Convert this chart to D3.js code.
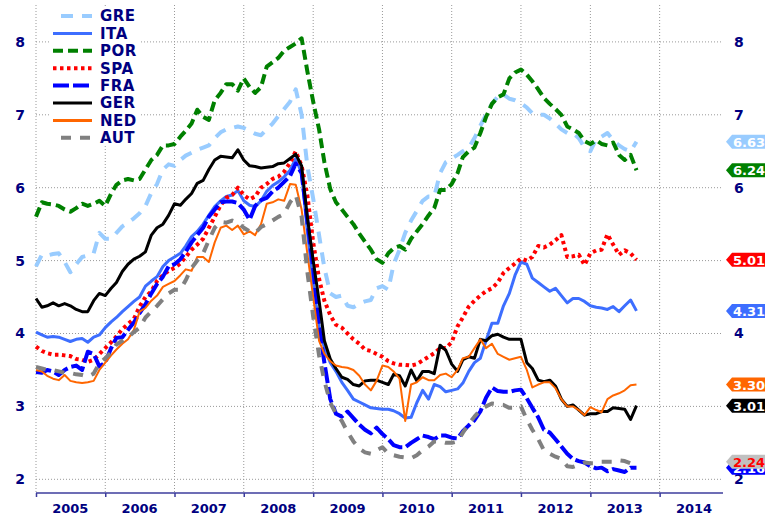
<!DOCTYPE html>
<html>
<head>
<meta charset="utf-8">
<script src="https://cdn.jsdelivr.net/npm/d3@7"></script>
<style>
  body { margin: 0; background: #fff; }
  svg { display: block; font-family: "DejaVu Sans", Verdana, sans-serif; }
  .grid line { stroke: #999; stroke-width: 1; stroke-dasharray: 1,2; }
</style>
</head>
<body>
<svg id="chart" width="765" height="517"></svg>
<script>
// monthly readings, Jan 2005 .. Sep 2013
var GRE = [4.92,5.08,5.07,5.09,5.10,4.98,4.84,4.95,5.05,5.07,5.10,5.38,
  5.30,5.30,5.38,5.47,5.52,5.58,5.65,5.75,5.93,6.05,6.25,6.32,
  6.30,6.38,6.44,6.48,6.52,6.55,6.58,6.68,6.76,6.80,6.82,6.84,
  6.82,6.78,6.74,6.72,6.80,6.88,6.98,7.08,7.18,7.35,7.00,6.30,
  5.85,5.35,4.90,4.55,4.50,4.52,4.38,4.36,4.41,4.44,4.46,4.62,
  4.65,4.60,4.95,5.15,5.38,5.55,5.68,5.82,5.88,5.88,6.20,6.35,
  6.40,6.45,6.50,6.55,6.68,6.85,7.00,7.15,7.25,7.28,7.22,7.20,
  7.16,7.10,7.02,7.00,7.00,6.95,6.88,6.80,6.75,6.75,6.68,6.55,
  6.50,6.67,6.70,6.75,6.65,6.58,6.53,6.50,6.63];
var ITA = [4.02,3.98,3.95,3.96,3.95,3.92,3.89,3.92,3.93,3.88,3.95,3.98,
  4.08,4.16,4.22,4.30,4.37,4.44,4.50,4.65,4.72,4.78,4.92,5.00,
  5.05,5.10,5.20,5.33,5.40,5.50,5.62,5.74,5.82,5.88,5.90,5.96,
  5.82,5.76,5.74,5.82,5.95,6.03,6.08,6.15,6.24,6.40,6.20,5.40,
  4.70,4.10,3.80,3.60,3.48,3.33,3.22,3.10,3.06,3.02,2.98,2.97,
  2.96,2.96,2.94,2.90,2.84,2.85,3.05,3.22,3.10,3.30,3.27,3.20,
  3.22,3.24,3.32,3.48,3.60,3.66,3.90,4.14,4.14,4.38,4.55,4.80,
  4.98,4.95,4.76,4.70,4.64,4.58,4.62,4.52,4.42,4.48,4.48,4.44,
  4.38,4.36,4.35,4.33,4.37,4.30,4.38,4.46,4.31];
var POR = [5.60,5.80,5.78,5.77,5.75,5.70,5.67,5.72,5.78,5.75,5.78,5.82,
  5.75,5.92,6.04,6.10,6.12,6.10,6.12,6.25,6.38,6.45,6.58,6.58,
  6.60,6.70,6.78,6.88,7.07,6.97,6.93,7.20,7.30,7.42,7.42,7.33,
  7.50,7.38,7.30,7.38,7.66,7.72,7.78,7.88,7.93,7.98,8.05,7.60,
  7.18,6.80,6.35,5.98,5.80,5.70,5.60,5.50,5.37,5.26,5.15,5.02,
  4.97,5.10,5.17,5.20,5.15,5.30,5.40,5.50,5.62,5.72,5.97,5.97,
  6.05,6.20,6.42,6.50,6.55,6.75,6.97,7.15,7.24,7.28,7.50,7.58,
  7.62,7.55,7.46,7.35,7.23,7.15,7.08,7.00,6.84,6.80,6.75,6.64,
  6.60,6.65,6.60,6.58,6.62,6.45,6.38,6.45,6.24];
var SPA = [3.82,3.76,3.73,3.71,3.71,3.70,3.69,3.65,3.64,3.61,3.64,3.72,
  3.80,3.88,3.96,4.06,4.13,4.20,4.37,4.50,4.58,4.72,4.80,4.86,
  4.90,4.96,5.05,5.15,5.22,5.30,5.45,5.60,5.76,5.86,5.90,6.00,
  5.90,5.84,5.88,6.00,6.05,6.12,6.15,6.22,6.34,6.50,6.30,5.90,
  5.25,4.75,4.45,4.25,4.12,4.08,4.00,3.92,3.86,3.78,3.76,3.72,
  3.68,3.62,3.59,3.57,3.57,3.56,3.58,3.63,3.68,3.73,3.80,3.80,
  3.88,4.10,4.22,4.37,4.45,4.52,4.58,4.62,4.70,4.83,4.90,4.96,
  5.03,5.00,5.05,5.20,5.18,5.22,5.28,5.35,5.05,5.06,5.08,4.94,
  5.10,5.14,5.15,5.36,5.22,5.08,5.14,5.10,5.01];
var FRA = [3.47,3.46,3.50,3.48,3.43,3.50,3.54,3.56,3.50,3.75,3.72,3.55,
  3.60,3.80,3.94,3.95,4.05,4.15,4.28,4.40,4.55,4.68,4.78,4.92,
  4.95,5.02,5.12,5.25,5.35,5.45,5.60,5.70,5.80,5.81,5.81,5.79,
  5.70,5.56,5.75,5.83,5.86,5.95,6.00,6.08,6.16,6.33,6.20,5.55,
  4.90,4.10,3.60,3.10,2.90,2.86,2.93,2.84,2.75,2.68,2.63,2.71,
  2.62,2.55,2.47,2.44,2.44,2.50,2.55,2.60,2.58,2.55,2.60,2.60,
  2.57,2.56,2.66,2.74,2.81,2.93,3.12,3.26,3.21,3.20,3.20,3.22,
  3.23,3.11,2.98,2.85,2.68,2.64,2.55,2.45,2.35,2.28,2.25,2.23,
  2.18,2.15,2.16,2.11,2.14,2.12,2.10,2.16,2.16];
var GER = [4.48,4.36,4.38,4.42,4.38,4.41,4.38,4.33,4.30,4.30,4.45,4.55,
  4.52,4.62,4.70,4.85,4.95,5.02,5.06,5.12,5.35,5.45,5.50,5.62,
  5.78,5.76,5.84,5.92,6.06,6.10,6.25,6.38,6.43,6.42,6.41,6.52,
  6.38,6.30,6.29,6.27,6.28,6.29,6.33,6.34,6.40,6.46,6.30,5.60,
  5.00,4.45,3.90,3.65,3.52,3.40,3.37,3.30,3.28,3.35,3.36,3.36,
  3.33,3.30,3.44,3.42,3.28,3.50,3.35,3.48,3.48,3.45,3.84,3.77,
  3.58,3.48,3.64,3.68,3.66,3.92,3.90,3.97,3.99,3.95,3.92,3.92,
  3.92,3.60,3.52,3.36,3.34,3.36,3.28,3.10,3.00,3.02,2.95,2.88,
  2.90,2.90,2.93,2.93,2.98,2.97,2.96,2.82,3.01];
var NED = [3.50,3.48,3.42,3.38,3.36,3.43,3.35,3.33,3.32,3.33,3.35,3.50,
  3.60,3.70,3.78,3.86,3.92,4.05,4.30,4.35,4.45,4.52,4.64,4.68,
  4.72,4.80,4.88,4.86,5.05,5.05,4.98,5.25,5.45,5.48,5.42,5.48,
  5.36,5.40,5.35,5.50,5.78,5.80,5.84,5.82,6.05,6.04,5.70,5.10,
  4.50,3.90,3.72,3.62,3.56,3.54,3.53,3.50,3.42,3.30,3.22,3.35,
  3.56,3.54,3.48,3.38,2.80,3.30,3.33,3.40,3.36,3.36,3.43,3.45,
  3.40,3.50,3.66,3.68,3.80,3.92,3.80,3.86,3.72,3.68,3.64,3.66,
  3.68,3.50,3.26,3.30,3.33,3.33,3.25,3.10,3.00,3.00,2.95,2.88,
  2.99,2.95,2.92,3.10,3.15,3.18,3.22,3.29,3.30];
var AUT = [3.54,3.52,3.50,3.50,3.48,3.46,3.46,3.44,3.43,3.41,3.45,3.59,
  3.66,3.74,3.85,3.90,3.95,4.02,4.08,4.22,4.30,4.38,4.47,4.55,
  4.60,4.60,4.73,4.90,5.00,5.10,5.28,5.45,5.53,5.52,5.55,5.52,
  5.45,5.40,5.38,5.46,5.50,5.55,5.60,5.64,5.80,5.90,5.60,4.85,
  4.23,3.70,3.35,3.05,2.90,2.80,2.65,2.52,2.42,2.37,2.35,2.40,
  2.44,2.35,2.33,2.31,2.30,2.29,2.33,2.40,2.45,2.52,2.52,2.50,
  2.50,2.52,2.64,2.76,2.86,2.95,3.00,3.04,3.03,3.02,2.98,2.98,
  3.00,2.82,2.68,2.55,2.40,2.35,2.31,2.28,2.18,2.17,2.20,2.23,
  2.22,2.22,2.24,2.24,2.24,2.26,2.25,2.22,2.24];

var names = ["GRE", "ITA", "POR", "SPA", "FRA", "GER", "NED", "AUT"];
var values = [GRE, ITA, POR, SPA, FRA, GER, NED, AUT];
var yTicks = [2, 3, 4, 5, 6, 7, 8];
var yTicksRight = [2, 4, 6, 7, 8];   // 3 and 5 sit under the flags
var yearLabels = [2005, 2006, 2007, 2008, 2009, 2010, 2011, 2012, 2013, 2014];

// look of each series
var styles = {
  GRE: {color: "#99ccff", width: 4, dash: "12,9"},
  ITA: {color: "#3d6eff", width: 3, dash: null},
  POR: {color: "#008000", width: 4, dash: "10,5"},
  SPA: {color: "#ff0000", width: 4, dash: "3.5,3.5"},
  FRA: {color: "#0000ff", width: 4, dash: "16,4"},
  GER: {color: "#000000", width: 3, dash: null},
  NED: {color: "#ff6600", width: 2, dash: null},
  AUT: {color: "#808080", width: 4, dash: "10,9"}
};
var flagText = {GRE: "#fff", ITA: "#fff", POR: "#fff", SPA: "#fff",
  FRA: "#fff", GER: "#fff", NED: "#fff", AUT: "#ff0000"};
var flagFill = {GRE: "#99ccff", ITA: "#3d6eff", POR: "#008000", SPA: "#ff0000",
  FRA: "#0000ff", GER: "#000000", NED: "#ff6600", AUT: "#c0c0c0"};

var months = d3.timeMonth.range(new Date(2005, 0, 1), new Date(2013, 9, 1));

var svg = d3.select("#chart");
var left = 36, right = 723, bottom = 493;

var x = d3.scaleTime()
  .domain([new Date(2005, 0, 1), new Date(2014, 11, 1)])
  .range([left, right]);
var y = d3.scaleLinear().domain([2, 8]).range([479.3, 41.9]);

var yearStarts = yearLabels.map(function(yr) { return new Date(yr, 0, 1); });

// grid
var grid = svg.append("g").attr("class", "grid");
grid.selectAll(".h").data(yTicks).enter().append("line")
  .attr("x1", left).attr("x2", right)
  .attr("y1", function(d) { return y(d); })
  .attr("y2", function(d) { return y(d); });
grid.selectAll(".v").data(yearStarts).enter().append("line")
  .attr("x1", function(d) { return x(d); })
  .attr("x2", function(d) { return x(d); })
  .attr("y1", 5).attr("y2", bottom);

// x axis: ticks at year boundaries, labels at mid-year
var xAxis = svg.append("g")
  .attr("transform", "translate(0," + bottom + ")")
  .call(d3.axisBottom(x).tickValues(yearStarts).tickSize(4).tickFormat(""));
xAxis.select(".domain").attr("stroke", "#3c3c9c").attr("stroke-width", 1.5)
  .attr("d", "M" + left + ",0H" + right);
xAxis.selectAll(".tick line").attr("stroke", "#3c3c9c").attr("stroke-width", 1.5);

svg.append("g").selectAll("text").data(yearLabels).enter().append("text")
  .attr("x", function(d) { return x(new Date(d, 6, 1)); })
  .attr("y", 513)
  .attr("text-anchor", "middle")
  .attr("fill", "#000080")
  .attr("font-size", "13px")
  .attr("font-weight", "bold")
  .text(function(d) { return d; });

// y axes on both sides
function styleY(g) {
  g.select(".domain").remove();
  g.selectAll("text").attr("fill", "#000080").attr("font-size", "14px")
    .attr("font-weight", "bold").attr("font-family", "DejaVu Sans, Verdana, sans-serif");
}
svg.append("g").attr("transform", "translate(" + left + ",0)")
  .call(d3.axisLeft(y).tickValues(yTicks).tickSize(0).tickPadding(11).tickFormat(d3.format("d")))
  .call(styleY);
svg.append("g").attr("transform", "translate(" + right + ",0)")
  .call(d3.axisRight(y).tickValues(yTicksRight).tickSize(0).tickPadding(11).tickFormat(d3.format("d")))
  .call(styleY);

// series
var line = d3.line()
  .x(function(d, i) { return x(months[i]); })
  .y(function(d) { return y(d); });

svg.append("g").selectAll("path").data(names).enter().append("path")
  .attr("d", function(n, k) { return line(values[k]); })
  .attr("fill", "none")
  .attr("stroke", function(n) { return styles[n].color; })
  .attr("stroke-width", function(n) { return styles[n].width; })
  .attr("stroke-dasharray", function(n) { return styles[n].dash; })
  .attr("stroke-linejoin", "round");

// last value flags on the right
var flagOrder = ["GRE", "POR", "SPA", "ITA", "NED", "GER", "FRA", "AUT"];
var flags = svg.append("g").selectAll("g").data(flagOrder).enter().append("g")
  .attr("transform", function(n) {
    var v = values[names.indexOf(n)];
    return "translate(726," + y(v[v.length - 1]) + ")";
  });
flags.append("path")
  .attr("d", "M0,0L6,-7H80V7H6Z")
  .attr("fill", function(n) { return flagFill[n]; });
flags.append("text")
  .attr("x", 7).attr("y", 5)
  .attr("fill", function(n) { return flagText[n]; })
  .attr("font-size", "13px").attr("font-weight", "bold")
  .text(function(n) {
    var v = values[names.indexOf(n)];
    return d3.format(".2f")(v[v.length - 1]);
  });

// legend
var legend = svg.append("g");
legend.append("rect").attr("x", 50).attr("y", 6).attr("width", 90).attr("height", 140).attr("fill", "#fff");
var rows = legend.selectAll("g.row").data(names).enter().append("g")
  .attr("transform", function(n, i) { return "translate(0," + (16 + i * 17.4) + ")"; });
rows.append("line")
  .attr("x1", function(n) { return (n === "GRE" || n === "AUT") ? 61 : 53; })
  .attr("x2", 92)
  .attr("stroke", function(n) { return styles[n].color; })
  .attr("stroke-width", function(n) { return Math.max(styles[n].width, 3); })
  .attr("stroke-dasharray", function(n) { return styles[n].dash; });
rows.append("text")
  .attr("x", 100).attr("dy", "0.36em")
  .attr("fill", "#000080")
  .attr("font-size", "15px").attr("font-weight", "bold")
  .attr("letter-spacing", "0.5px")
  .text(function(n) { return n; });
</script>
</body>
</html>
